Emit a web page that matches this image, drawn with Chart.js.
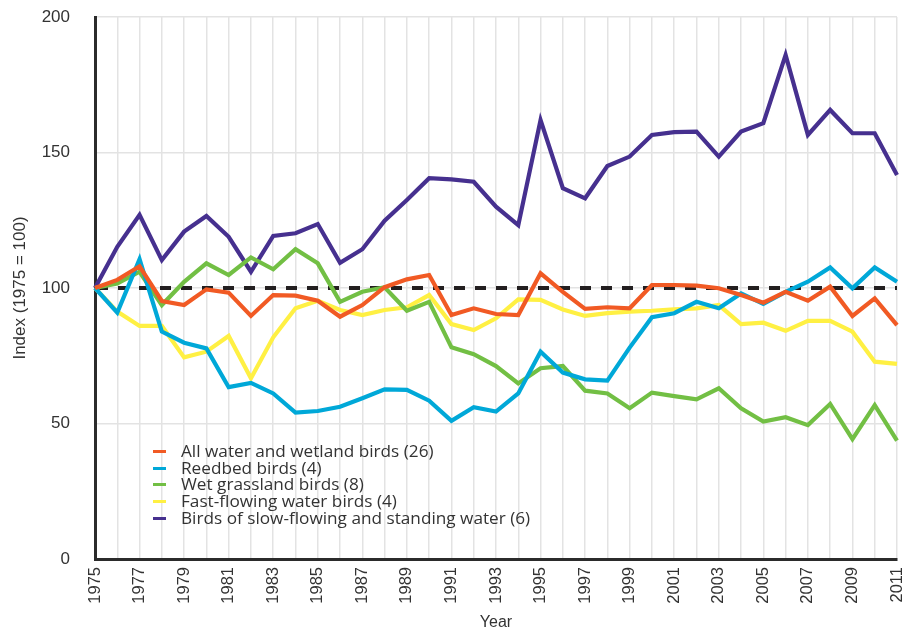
<!DOCTYPE html>
<html>
<head>
<meta charset="utf-8">
<script src="https://cdn.jsdelivr.net/npm/chart.js@4/dist/chart.umd.min.js"></script>
<style>
  body { margin: 0; background: #fff; }
  #wrap { position: relative; width: 914px; height: 632px; }
  #legend {
    position: absolute; left: 153px; top: 442px;
    font: 17.2px "Open Sans", "Liberation Sans", Arial, sans-serif; color: #333;
  }
  #legend div { position: relative; height: 16.7px; line-height: 17px; padding-left: 28px; white-space: nowrap; }
  #legend span { position: absolute; left: 0; top: 8px; width: 13px; height: 3px; }
</style>
</head>
<body>
<div id="wrap">
  <canvas id="birdChart" width="914" height="632"></canvas>
  <div id="legend"></div>
</div>
<script>
// chart values
const years = [];
for (let y = 1975; y <= 2011; y++) years.push(String(y));

const seriesNames = [
    'All water and wetland birds (26)',
    'Reedbed birds (4)',
    'Wet grassland birds (8)',
    'Fast-flowing water birds (4)',
    'Birds of slow-flowing and standing water (6)'
];
const seriesColors = ['#f15a24', '#00a8d8', '#72bf44', '#fff043', '#46308f'];

const allWater = [100, 103, 108, 95.2, 93.7, 99.5, 98.3, 89.7, 97.4, 97.2, 95.3, 89.4, 93.7, 100.3, 103.2, 104.8, 90, 92.5, 90.4, 90,
    105.4, 98.6, 92.3, 92.9, 92.5, 101.1, 101.1, 100.9, 99.9, 97.4, 94.6, 98.6, 95.3, 100.5, 89.7, 96.2, 86.3];
const reedbed = [100, 90.9, 110.6, 83.9, 79.8, 77.7, 63.4, 65, 61.1, 54, 54.6, 56.2, 59.3, 62.6, 62.4, 58.4, 51, 56, 54.4, 61.1,
    76.5, 68.8, 66.3, 65.8, 78, 89.2, 90.7, 94.9, 92.5, 98, 94.1, 98.6, 102.3, 107.6, 99.9, 107.6, 102.3];
const wetGrassland = [100, 101.7, 106, 93.7, 102.3, 109.1, 104.8, 111.3, 106.9, 114.3, 109.1, 94.9, 98.6, 100.3, 91.6, 94.9, 78.1, 75.6, 71.2, 64.8,
    70.4, 71.2, 62.1, 61.1, 55.6, 61.4, 60.1, 58.9, 63, 55.6, 50.7, 52.3, 49.4, 57.2, 44.2, 56.8, 43.7];
const fastFlowing = [100, 91.3, 86, 86, 74.4, 76.5, 82.3, 66.7, 81.8, 92.5, 95.3, 91.9, 90, 91.9, 92.9, 97.4, 86.7, 84.5, 88.8, 95.8,
    95.6, 92.1, 89.7, 90.7, 91.3, 91.6, 92.1, 92.5, 93.7, 86.7, 87.2, 84.2, 87.9, 87.9, 83.9, 72.8, 72];
const slowFlowing = [100, 115.2, 127, 110.3, 120.8, 126.6, 118.9, 106, 119.2, 120.2, 123.6, 109.3, 114.3, 124.8, 132.5, 140.5, 140.1, 139.2, 130, 123.2,
    162, 136.8, 133.1, 145, 148.5, 156.5, 157.5, 157.7, 148.5, 157.7, 160.8, 186, 156.5, 165.7, 157.1, 157.1, 141.7];

const baseline = 100;
const yTicks = [0, 50, 100, 150, 200];

const seriesData = [allWater, reedbed, wetGrassland, fastFlowing, slowFlowing];
const textColor = '#333';
const gridColor = '#e3e3e3';
const axisColor = '#2b2b2b';

// scales should not push the plot area in; layout padding does that
function noScalePadding(scale) {
    scale.paddingTop = 0;
    scale.paddingBottom = 0;
    scale.paddingLeft = 0;
    scale.paddingRight = 0;
}

// dashed 1975 = 100 line, under the series
const baselinePlugin = {
    id: 'baseline',
    beforeDatasetsDraw(chart) {
        const {ctx, chartArea, scales} = chart;
        const y = scales.y.getPixelForValue(baseline);
        ctx.save();
        ctx.strokeStyle = '#231f20';
        ctx.lineWidth = 4;
        ctx.setLineDash([11, 10]);
        ctx.beginPath();
        ctx.moveTo(chartArea.left + 2, y);
        ctx.lineTo(chartArea.right, y);
        ctx.stroke();
        ctx.restore();
    }
};

const datasets = seriesData.map((d, i) => ({
    label: seriesNames[i],
    data: d,
    borderColor: seriesColors[i],
    backgroundColor: seriesColors[i],
    borderWidth: 4.2,
    pointRadius: 0,
    tension: 0,
    borderJoinStyle: 'miter',
    borderCapStyle: 'butt',
    fill: false
}));

const ctx = document.getElementById('birdChart').getContext('2d');
const birdChart = new Chart(ctx, {
    type: 'line',
    data: { labels: years, datasets: datasets },
    options: {
        responsive: false,
        animation: false,
        layout: { padding: { top: 17, right: 17, bottom: 0, left: 0 } },
        plugins: {
            legend: { display: false },
            tooltip: { enabled: false }
        },
        scales: {
            x: {
                type: 'category',
                grid: { color: gridColor, lineWidth: 1.5, drawTicks: false },
                border: { color: axisColor, width: 3 },
                ticks: {
                    autoSkip: false,
                    minRotation: 90,
                    maxRotation: 90,
                    padding: 8,
                    color: textColor,
                    font: { family: 'Liberation Sans', size: 16.5 },
                    callback: (v, i) => (i % 2 === 0 ? years[i] : '')
                },
                title: {
                    display: true,
                    text: 'Year',
                    color: textColor,
                    font: { family: 'Liberation Sans', size: 16 },
                    padding: { top: 0, bottom: 0 }
                },
                afterFit(scale) {
                    scale.height = 73;
                    noScalePadding(scale);
                }
            },
            y: {
                min: yTicks[0],
                max: yTicks[yTicks.length - 1],
                grid: { color: gridColor, lineWidth: 1.5, drawTicks: false },
                border: { color: axisColor, width: 3 },
                afterBuildTicks(scale) { scale.ticks = yTicks.map(v => ({ value: v })); },
                ticks: {
                    padding: 25,
                    color: textColor,
                    font: { family: 'Liberation Sans', size: 17 }
                },
                title: {
                    display: true,
                    text: 'Index (1975 = 100)',
                    color: textColor,
                    font: { family: 'Liberation Sans', size: 17 },
                    padding: { top: 10, bottom: 0 }
                },
                afterFit(scale) {
                    scale.width = 95;
                    noScalePadding(scale);
                }
            }
        }
    },
    plugins: [baselinePlugin]
});

// legend sits inside the plot, bottom left
const legendBox = document.getElementById('legend');
seriesNames.forEach((name, i) => {
    const row = document.createElement('div');
    const mark = document.createElement('span');
    mark.style.background = seriesColors[i];
    row.appendChild(mark);
    row.appendChild(document.createTextNode(name));
    legendBox.appendChild(row);
});
</script>
</body>
</html>
